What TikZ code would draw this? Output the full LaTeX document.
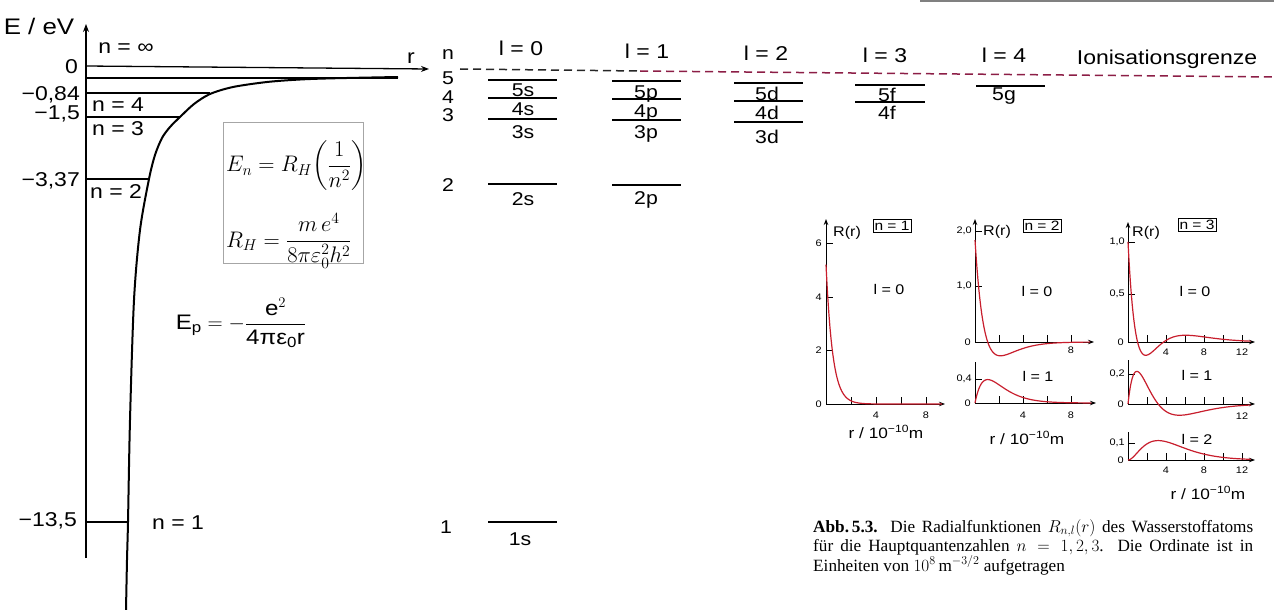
\RequirePackage{fix-cm}
\documentclass[tikz,border=0pt]{standalone}
\usepackage{fontspec}
\usepackage{amsmath}
\setmainfont{Liberation Sans}[FakeStretch=1.15]
\newfontfamily\capfont{Liberation Serif}
\usetikzlibrary{arrows.meta}
\definecolor{curvered}{RGB}{200,30,45}
\definecolor{limitred}{RGB}{140,30,70}
\begin{document}
\begin{tikzpicture}[x=1pt,y=-1pt,
  every node/.style={inner sep=0pt},
  lbl/.style={font=\fontsize{20}{22}\selectfont},
  big/.style={font=\fontsize{22.5}{24}\selectfont},
  hdr/.style={font=\fontsize{20}{24}\selectfont},
  lvl/.style={font=\fontsize{18.5}{20}\selectfont},
  plab/.style={font=\fontsize{14}{15}\selectfont},
  rlab/.style={font=\fontsize{15}{16}\selectfont},
  tlab/.style={font=\fontsize{9.5}{11}\selectfont},
  fml/.style={anchor=west, font=\fontsize{22.5}{26}\selectfont},
  nbox/.style={draw, line width=0.8pt, inner sep=1.5pt, font=\fontsize{13.5}{14}\selectfont},
  axisline/.style={line width=1.3pt},
  levelline/.style={line width=1.3pt},
  pax/.style={line width=1pt},
  ptick/.style={line width=0.7pt},
  rcurve/.style={line width=1.2pt, curvered},
  tip/.style={-{Stealth[length=8pt,width=6pt]}},
  ptip/.style={-{Stealth[length=6pt,width=4.5pt]}}
]
\useasboundingbox (0,0) rectangle (1274,610);
\fill[white] (0,0) rectangle (1274,610);

% top gray bar
\coordinate (barL) at (920,1);
\coordinate (barR) at (1274,1);
\draw[gray, line width=2.5pt] (barL) -- (barR);

% ===== left energy diagram =====
\coordinate (Ebot) at (86,558);
\coordinate (Etop) at (86,24);
\draw[axisline,tip] (Ebot) -- (Etop);
\node[big] (Elab) at (39,26) {E / eV};
\node[lbl] (ninf) at (126,48) {n = ∞};

\coordinate (r0) at (86,66);
\coordinate (rtip) at (429,69);
\draw[axisline,tip] (r0) -- (rtip);
\node[lbl] (rlab) at (411,58) {r};
\coordinate (l5a) at (86,78);
\coordinate (l5b) at (398,78);
\draw[levelline] (l5a) -- (l5b);

\node[lbl,anchor=east] (e0) at (78,67) {0};
\node[lbl,anchor=east] (e4) at (80,95) {−0,84};
\node[lbl,anchor=east] (e3) at (80,114) {−1,5};
\node[lbl,anchor=east] (e2) at (80,181) {−3,37};
\node[lbl,anchor=east] (e1) at (77,521) {−13,5};

\coordinate (n4a) at (86,93);  \coordinate (n4b) at (210,93);
\coordinate (n3a) at (86,117); \coordinate (n3b) at (180,117);
\coordinate (n2a) at (86,179); \coordinate (n2b) at (149,179);
\coordinate (n1a) at (86,522); \coordinate (n1b) at (128,522);
\draw[levelline] (n4a) -- (n4b);
\draw[levelline] (n3a) -- (n3b);
\draw[levelline] (n2a) -- (n2b);
\draw[levelline] (n1a) -- (n1b);
\node[lbl,anchor=west] (ln4) at (92,105) {n = 4};
\node[lbl,anchor=west] (ln3) at (92,129) {n = 3};
\node[lbl,anchor=west] (ln2) at (90,192) {n = 2};
\node[lbl,anchor=west] (ln1) at (152,523) {n = 1};

% potential curve
\draw[line width=2pt] plot[smooth] coordinates {(126,610) (127,560) (128,522) (130,420) (134,300) (140,230) (149,179) (155,155) (162,138) (170,127) (180,117) (194,104) (210,94) (233,87) (267,82) (300,79.5) (333,78.3) (398,77)};

% formula box
\node[draw=gray!70, line width=0.8pt, minimum width=140pt, minimum height=141pt] (fbox) at (293,192.5) {};
\node[fml] (fEn) at (226,166) {$\displaystyle E_n = R_H\!\left(\frac{1}{n^2}\right)$};
\node[fml] (fRH) at (226,241) {$\displaystyle R_H = \frac{m\,e^4}{8\pi\varepsilon_0^2h^2}$};

% potential formula
\node[font=\fontsize{21}{24}\selectfont] (Ep) at (241,323) {$\text{E}_\text{p} = -\dfrac{\text{e}^2}{\text{4πε}_\text{0}\text{r}}$};

% ===== term scheme =====
\node[lvl] (nhead) at (448,55) {n};
\node[lvl] (nn5) at (448,78) {5};
\node[lvl] (nn4) at (448,97) {4};
\node[lvl] (nn3) at (448,115) {3};
\node[lvl] (nn2) at (448,185) {2};
\node[lvl] (nn1) at (446,527) {1};

\node[hdr] (h0) at (521,48) {l = 0};
\node[hdr] (h1) at (647,51) {l = 1};
\node[hdr] (h2) at (766,53) {l = 2};
\node[hdr] (h3) at (885,55) {l = 3};
\node[hdr] (h4) at (1004,55) {l = 4};
\node[hdr] (ion) at (1167,59) {Ionisationsgrenze};

\coordinate (limA) at (460,69);
\coordinate (limM) at (640,71);
\coordinate (limB) at (1274,77);
\draw[line width=1.5pt, dash pattern=on 8pt off 5pt, black!85] (limA) -- (limM);
\draw[line width=1.5pt, dash pattern=on 8pt off 5pt, limitred] (limM) -- (limB);

% s levels
\foreach \y in {80,98,119,184,522} \draw[levelline] (488,\y) -- (557,\y);
\node[lvl,anchor=base] (s5) at (523,96) {5s};
\node[lvl,anchor=base] (s4) at (523,115) {4s};
\node[lvl,anchor=base] (s3) at (523,138) {3s};
\node[lvl,anchor=base] (s2) at (523,205) {2s};
\node[lvl,anchor=base] (s1) at (520,545) {1s};
% p levels
\foreach \y in {81,99,120,185} \draw[levelline] (612,\y) -- (681,\y);
\node[lvl,anchor=base] (p5) at (646,98) {5p};
\node[lvl,anchor=base] (p4) at (646,117) {4p};
\node[lvl,anchor=base] (p3) at (646,138) {3p};
\node[lvl,anchor=base] (p2) at (646,204) {2p};
% d levels
\foreach \y in {83,101,122} \draw[levelline] (734,\y) -- (803,\y);
\node[lvl,anchor=base] (d5) at (767,100) {5d};
\node[lvl,anchor=base] (d4) at (767,119) {4d};
\node[lvl,anchor=base] (d3) at (767,143) {3d};
% f levels
\foreach \y in {85,102} \draw[levelline] (855,\y) -- (925,\y);
\node[lvl,anchor=base] (f5) at (887,101) {5f};
\node[lvl,anchor=base] (f4) at (887,119) {4f};
% g level
\draw[levelline] (976,86) -- (1045,86);
\node[lvl,anchor=base] (g5) at (1004,100) {5g};

% ===== radial functions =====
% --- n = 1 ---
\draw[pax,ptip] (826,404) -- (826,219);
\draw[pax,ptip] (826,404) -- (945,404);
\foreach \v/\t in {243/6,297/4,350/2} {\draw[ptick] (826,\v) -- (833,\v); \node[tlab,anchor=east] at (822,\v) {\t};}
\node[tlab,anchor=east] at (822,404) {0};
\foreach \x in {851,876,901,926} \draw[ptick] (\x,404) -- (\x,397);
\node[tlab] at (876,415) {4};
\node[tlab] at (926,415) {8};
\draw[rcurve] plot[domain=0:9.3,samples=120,variable=\r] ({826+12.5*\r},{404-139.4*exp(-\r/0.529)});
\node[plab] (R1) at (847,233) {R(r)};
\node[nbox] (N1) at (892,226) {n = 1};
\node[plab] (L10) at (889,289) {l = 0};
\node[rlab] (x1) at (886,432) {r / 10\textsuperscript{−10}m};

% --- n = 2 ---
\draw[pax,ptip] (975,342) -- (975,219);
\draw[pax,ptip] (975,342) -- (1094,342);
\foreach \v/\t in {231/{2,0},286/{1,0}} {\draw[ptick] (975,\v) -- (982,\v); \node[tlab,anchor=east] at (972,\v) {\t};}
\node[tlab,anchor=east] at (971,342) {0};
\foreach \x in {999,1023,1047,1071} \draw[ptick] (\x,342) -- (\x,335);
\node[tlab] at (1071,350) {8};
\draw[rcurve] plot[domain=0:9.6,samples=120,variable=\r] ({975+12*\r},{342-51.0*(2-\r/0.529)*exp(-\r/1.058)});
\draw[pax] (975,403) -- (975,362);
\draw[pax,ptip] (975,403) -- (1096,403);
\draw[ptick] (975,379) -- (982,379);
\node[tlab,anchor=east] at (972,379) {0,4};
\node[tlab,anchor=east] at (971,403) {0};
\foreach \x in {999,1023,1047,1071} \draw[ptick] (\x,403) -- (\x,396);
\node[tlab] at (1023,415) {4};
\node[tlab] at (1071,415) {8};
\draw[rcurve] plot[domain=0:9.7,samples=120,variable=\r] ({975+12*\r},{403-31.84*(\r/0.529)*exp(-\r/1.058)});
\node[plab] (R2) at (997,232) {R(r)};
\node[nbox] (N2) at (1042,226) {n = 2};
\node[plab] (L20) at (1037,291) {l = 0};
\node[plab] (L21) at (1038,376) {l = 1};
\node[rlab] (x2) at (1027,438) {r / 10\textsuperscript{−10}m};

% --- n = 3 ---
\draw[pax,ptip] (1128,342) -- (1128,222);
\draw[pax,ptip] (1128,342) -- (1255,342);
\foreach \v/\t in {242/{1,0},294/{0,5}} {\draw[ptick] (1128,\v) -- (1135,\v); \node[tlab,anchor=east] at (1125,\v) {\t};}
\node[tlab,anchor=east] at (1124,342) {0};
\foreach \x in {1147,1166,1185,1204,1223,1242} \draw[ptick] (\x,342) -- (\x,335);
\node[tlab] at (1166,352) {4};
\node[tlab] at (1204,352) {8};
\node[tlab] at (1242,352) {12};
\draw[rcurve] plot[domain=0:12.9,samples=150,variable=\r] ({1128+9.5*\r},{342-3.707*(27-18*(\r/0.529)+2*(\r/0.529)^2)*exp(-\r/1.587)});

\draw[pax] (1128,404) -- (1128,360);
\draw[pax,ptip] (1128,404) -- (1255,404);
\draw[ptick] (1128,374) -- (1135,374);
\node[tlab,anchor=east] at (1125,374) {0,2};
\node[tlab,anchor=east] at (1124,404) {0};
\foreach \x in {1147,1166,1185,1204,1223,1242} \draw[ptick] (\x,404) -- (\x,397);
\node[tlab] at (1242,416) {12};
\draw[rcurve] plot[domain=0:12.9,samples=150,variable=\r] ({1128+9.5*\r},{404-47.18*(\r/0.529)*(1-\r/3.174)*exp(-\r/1.587)});

\draw[pax] (1128,460) -- (1128,432);
\draw[pax,ptip] (1128,460) -- (1255,460);
\draw[ptick] (1128,443) -- (1135,443);
\node[tlab,anchor=east] at (1125,443) {0,1};
\node[tlab,anchor=east] at (1124,460) {0};
\foreach \x in {1147,1166,1185,1204,1223,1242} \draw[ptick] (\x,460) -- (\x,453);
\node[tlab] at (1166,470) {4};
\node[tlab] at (1204,470) {8};
\node[tlab] at (1242,470) {12};
\draw[rcurve] plot[domain=0:12.9,samples=150,variable=\r] ({1128+9.5*\r},{460-3.985*(\r/0.529)^2*exp(-\r/1.587)});

\node[plab] (R3) at (1146,233) {R(r)};
\node[nbox] (N3) at (1197,225) {n = 3};
\node[plab] (L30) at (1195,291) {l = 0};
\node[plab] (L31) at (1197,375) {l = 1};
\node[plab] (L32) at (1197,439) {l = 2};
\node[rlab] (x3) at (1208,493) {r / 10\textsuperscript{−10}m};

% caption
\node[anchor=north west, text width=440pt, align=justify, font=\capfont\fontsize{17.2}{19.5}\selectfont] (cap) at (813,519)
 {\textbf{Abb.\,5.3.} Die Radialfunktionen $R_{n,l}(r)$ des Wasserstoffatoms\linebreak
 für die Hauptquantenzahlen $n=1,2,3$. Die Ordinate ist in\linebreak
 Einheiten von $10^8$\,m$^{-3/2}$ aufgetragen};
\end{tikzpicture}
\end{document}
